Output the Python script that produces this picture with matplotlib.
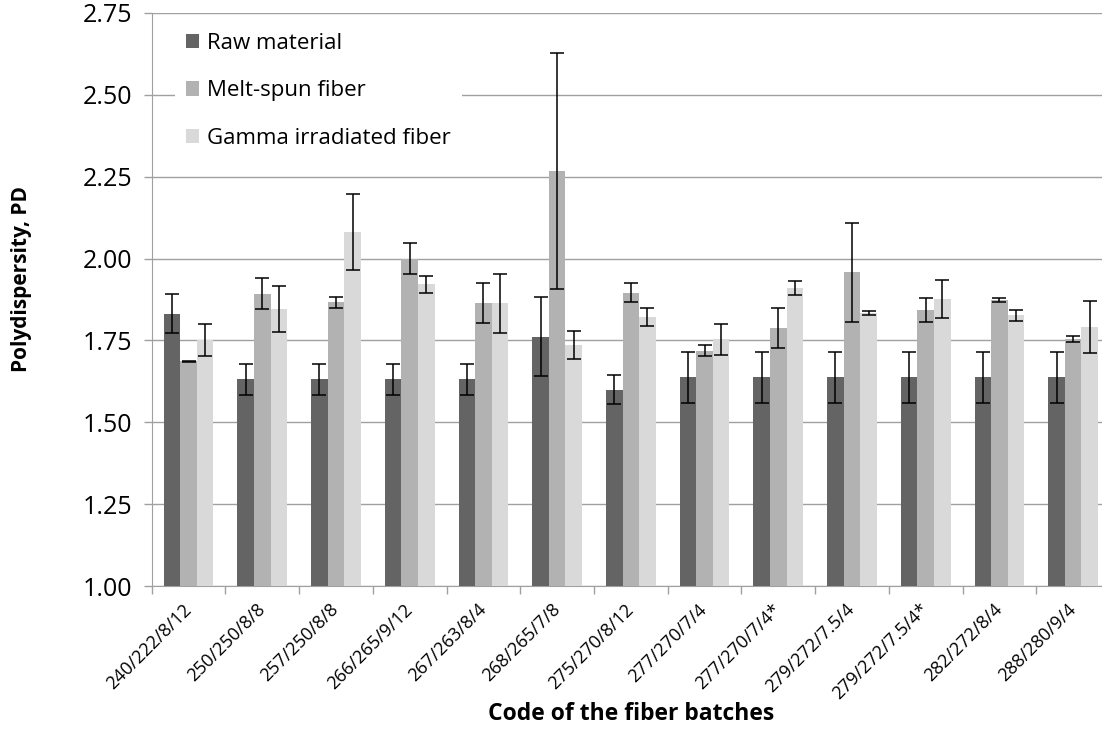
import matplotlib
matplotlib.use("Agg")
import matplotlib.pyplot as plt
import numpy as np

categories = ["240/222/8/12", "250/250/8/8", "257/250/8/8", "266/265/9/12",
              "267/263/8/4", "268/265/7/8", "275/270/8/12", "277/270/7/4",
              "277/270/7/4*", "279/272/7.5/4", "279/272/7.5/4*", "282/272/8/4",
              "288/280/9/4"]

raw_material = [1.832, 1.631, 1.631, 1.631, 1.631, 1.761, 1.600, 1.637,
                1.637, 1.637, 1.637, 1.637, 1.637]
raw_err = [0.060, 0.048, 0.048, 0.048, 0.048, 0.121, 0.043, 0.078,
           0.078, 0.078, 0.078, 0.078, 0.078]

melt_spun = [1.686, 1.893, 1.867, 2.000, 1.864, 2.268, 1.896, 1.719,
             1.788, 1.958, 1.842, 1.873, 1.754]
melt_err = [0.002, 0.048, 0.017, 0.047, 0.061, 0.361, 0.028, 0.016,
            0.060, 0.151, 0.037, 0.006, 0.010]

gamma = [1.750, 1.845, 2.081, 1.921, 1.864, 1.737, 1.821, 1.753,
         1.910, 1.833, 1.878, 1.827, 1.791]
gamma_err = [0.049, 0.070, 0.115, 0.026, 0.090, 0.043, 0.027, 0.048,
             0.021, 0.006, 0.058, 0.017, 0.079]

series_names = ["Raw material", "Melt-spun fiber", "Gamma irradiated fiber"]
y_ticks = [1.00, 1.25, 1.50, 1.75, 2.00, 2.25, 2.50, 2.75]

colors = ["#646464", "#b2b2b2", "#d9d9d9"]
FONT = "Open Sans"

fig = plt.figure(figsize=(11.02, 7.31), dpi=100)
ax = fig.add_axes([151.7 / 1102, (731 - 586) / 731, (1110 - 151.7) / 1102, (586 - 13) / 731])

x = np.arange(len(categories))
w = 0.225
data = [(raw_material, raw_err), (melt_spun, melt_err), (gamma, gamma_err)]
for i, ((vals, errs), name, c) in enumerate(zip(data, series_names, colors)):
    ax.bar(x + (i - 1) * w, np.array(vals) - 1.0, width=w, bottom=1.0,
           color=c, label=name, zorder=3, linewidth=0)
    ax.errorbar(x + (i - 1) * w, vals, yerr=errs, fmt="none", ecolor="black",
                elinewidth=1.1, capsize=5, capthick=1.1, zorder=4)

ax.set_xlim(-0.5, len(categories) - 0.5)
ax.set_ylim(1.0, 2.75)
ax.set_yticks(y_ticks)
ax.set_yticklabels([f"{v:.2f}" for v in y_ticks], fontsize=18, family=FONT)
ax.yaxis.grid(True, color="#a0a0a0", linewidth=1.0, zorder=0)
ax.set_axisbelow(True)

ax.set_xticks(x)
ax.set_xticklabels(categories, rotation=45, ha="right", va="center",
                   rotation_mode="anchor", fontsize=13, family=FONT)
ax.set_xticks(np.arange(-0.5, len(categories), 1.0), minor=True)
ax.tick_params(axis="x", which="major", length=0, pad=15)
ax.tick_params(axis="x", which="minor", length=6, color="#a0a0a0", width=1)
ax.tick_params(axis="y", length=6, color="#a0a0a0", width=1, pad=8)

for s in ["top", "right"]:
    ax.spines[s].set_visible(False)
ax.spines["left"].set_color("#a0a0a0")
ax.spines["bottom"].set_color("#a0a0a0")

ax.set_ylabel("Polydispersity, PD", fontsize=15, fontweight="bold", family=FONT)
ax.yaxis.set_label_coords(-0.125, 0.536)
ax.set_xlabel("Code of the fiber batches", fontsize=16.5, fontweight="bold", family=FONT)
ax.xaxis.set_label_coords((631 - 151.7) / 958.3, (586 - 702) / 573)

leg = ax.legend(loc="upper left", bbox_to_anchor=(0.024, 0.985), frameon=True,
                facecolor="white", edgecolor="none", framealpha=1,
                prop={"family": FONT, "size": 16}, handlelength=0.6, handleheight=0.6,
                handletextpad=0.35, labelspacing=1.2, borderpad=0.5, borderaxespad=0)
leg.set_zorder(5)

fig.savefig("out.png", dpi=100)
